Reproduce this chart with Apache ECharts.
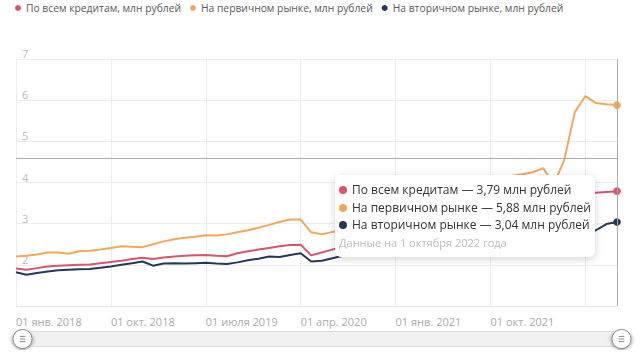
<!DOCTYPE html>
<html>
<head>
<meta charset="utf-8">
<script src="https://cdn.jsdelivr.net/npm/echarts@6/dist/echarts.min.js"></script>
<style>
html,body{margin:0;padding:0;background:#fff;}
#c{width:640px;height:360px;}
</style>
</head>
<body>
<div id="c"></div>
<script>
// ---- data ----
const years = [2018, 2019, 2020, 2021, 2022];
const monthShort = ['янв.', 'февр.', 'мар.', 'апр.', 'мая', 'июня', 'июля', 'авг.', 'сент.', 'окт.', 'нояб.', 'дек.'];
const monthGen = ['января', 'февраля', 'марта', 'апреля', 'мая', 'июня', 'июля', 'августа', 'сентября', 'октября', 'ноября', 'декабря'];
const legendNames = ['По всем кредитам, млн рублей', 'На первичном рынке, млн рублей', 'На вторичном рынке, млн рублей'];
const tipNames = ['По всем кредитам', 'На первичном рынке', 'На вторичном рынке'];
const yTicks = [1, 2, 3, 4, 5, 6, 7];

// Jan 2018 .. Oct 2022 (58 months)
const allLoans = [
  1.91, 1.88, 1.92, 1.96, 1.98, 1.99, 2.00, 2.01, 2.04, 2.07, 2.10, 2.14,
  2.17, 2.14, 2.18, 2.20, 2.22, 2.23, 2.24, 2.22, 2.21, 2.28, 2.33, 2.37,
  2.41, 2.45, 2.48, 2.49, 2.23, 2.30, 2.37, 2.42, 2.46, 2.50, 2.55, 2.60,
  2.58, 2.63, 2.70, 2.75, 2.80, 2.86, 2.91, 2.96, 3.02, 3.08, 3.13, 3.20,
  3.22, 3.26, 3.25, 3.15, 3.35, 3.62, 3.76, 3.75, 3.77, 3.79
];
const primary = [
  2.20, 2.22, 2.25, 2.30, 2.30, 2.27, 2.33, 2.34, 2.37, 2.41, 2.45, 2.44,
  2.43, 2.50, 2.57, 2.62, 2.66, 2.68, 2.72, 2.71, 2.74, 2.79, 2.84, 2.90,
  2.97, 3.04, 3.10, 3.10, 2.79, 2.74, 2.80, 2.85, 2.92, 2.98, 3.05, 3.12,
  3.15, 3.25, 3.35, 3.45, 3.55, 3.65, 3.72, 3.80, 3.88, 3.95, 4.05, 4.16,
  4.20, 4.25, 4.35, 3.95, 4.55, 5.71, 6.10, 5.93, 5.90, 5.88
];
const secondary = [
  1.82, 1.76, 1.80, 1.84, 1.87, 1.88, 1.89, 1.90, 1.93, 1.96, 2.00, 2.04,
  2.08, 1.98, 2.03, 2.04, 2.03, 2.04, 2.05, 2.03, 2.02, 2.06, 2.11, 2.15,
  2.20, 2.19, 2.24, 2.28, 2.08, 2.10, 2.16, 2.22, 2.27, 2.30, 2.34, 2.38,
  2.37, 2.41, 2.47, 2.52, 2.56, 2.61, 2.65, 2.68, 2.72, 2.76, 2.80, 2.85,
  2.86, 2.89, 2.88, 2.78, 2.74, 2.73, 2.76, 2.84, 2.99, 3.04
];
const colors = ['#d6566c', '#f0a75e', '#26375b'];

const categories = [];
for (const y of years) for (let m = 0; m < 12; m++) {
  if (y === 2022 && m > 9) break;
  categories.push(y + '-' + String(m + 1).padStart(2, '0'));
}
const seriesData = [allLoans, primary, secondary];

function fmt(v) { return v.toFixed(2).replace('.', ','); }

const handlePath = 'path://M50,2A48,48,0,1,1,50,98A48,48,0,1,1,50,2Z M36,37L64,37 M36,50L64,50 M36,63L64,63';

const chart = echarts.init(document.getElementById('c'), null, { renderer: 'svg' });
chart.setOption({
  animation: false,
  color: colors,
  legend: {
    left: 15, top: 3, padding: 0,
    icon: 'circle', itemWidth: 6, itemHeight: 6, itemGap: 9,
    textStyle: { fontFamily: 'Open Sans', fontSize: 10.3, color: '#5a5a5a' },
    data: legendNames
  },
  grid: { left: 16, right: 23, top: 59, bottom: 54 },
  tooltip: {
    trigger: 'axis',
    triggerOn: 'none',
    alwaysShowContent: true,
    transitionDuration: 0,
    position: [335, 175],
    padding: [6, 4, 6, 4],
    backgroundColor: '#fff',
    borderWidth: 0,
    extraCssText: 'border-radius:6px;box-shadow:0 2px 8px rgba(0,0,0,0.18);',
    axisPointer: {
      type: 'cross',
      label: { show: false },
      crossStyle: { color: '#aaa', type: 'solid', width: 1 },
      lineStyle: { color: '#aaa', type: 'solid', width: 1 }
    },
    formatter: function (params) {
      let html = '<div style="font-family:\'Open Sans\';font-size:12px;color:#333;">';
      params.forEach(p => {
        html += '<div style="line-height:17.5px;white-space:nowrap;">' +
          '<span style="display:inline-block;width:8px;height:8px;border-radius:50%;background:' + colors[p.seriesIndex] + ';margin-right:5px;vertical-align:0px;"></span>' +
          tipNames[p.seriesIndex] + ' — ' + fmt(p.value) + ' млн рублей</div>';
      });
      const parts = categories[params[0].dataIndex].split('-');
      html += '<div style="line-height:17.5px;font-size:11px;color:#bbb;">Данные на 1 ' +
        monthGen[parseInt(parts[1], 10) - 1] + ' ' + parts[0] + ' года</div></div>';
      return html;
    }
  },
  xAxis: {
    type: 'category',
    data: categories,
    boundaryGap: false,
    axisLine: { show: true, lineStyle: { color: '#e6e6e6' } },
    axisTick: { show: false },
    splitLine: { show: true, interval: 8, lineStyle: { color: '#ececec' } },
    axisLabel: {
      interval: function (i) { return i % 9 === 0 && i < 54; },
      align: 'left',
      margin: 10,
      fontFamily: 'Open Sans', fontSize: 11, color: '#aaa',
      formatter: function (v) {
        const parts = v.split('-');
        return '01 ' + monthShort[parseInt(parts[1], 10) - 1] + ' ' + parts[0];
      }
    }
  },
  yAxis: {
    type: 'value',
    min: yTicks[0], max: yTicks[yTicks.length - 1], interval: 1,
    axisLine: { show: false },
    axisTick: { show: false },
    splitLine: { lineStyle: { color: '#ececec' } },
    axisLabel: {
      inside: true,
      margin: 6,
      verticalAlign: 'bottom',
      fontFamily: 'Open Sans', fontSize: 11, color: '#bbb',
      formatter: function (v) { return v === yTicks[0] ? '' : String(v); }
    }
  },
  dataZoom: [{
    type: 'slider',
    left: 20, right: 19, bottom: 13, height: 16,
    start: 0, end: 100,
    showDetail: false,
    showDataShadow: false,
    brushSelect: false,
    moveHandleSize: 0,
    backgroundColor: '#f7f7f7',
    borderColor: '#dcdcdc',
    borderRadius: 8,
    fillerColor: 'rgba(236,236,236,0.5)',
    handleIcon: handlePath,
    handleSize: '120%',
    handleStyle: { color: '#fff', borderColor: '#888', borderWidth: 1, shadowBlur: 4, shadowColor: 'rgba(0,0,0,0.4)', shadowOffsetY: 1 }
  }],
  series: seriesData.map((d, i) => ({
    name: legendNames[i],
    type: 'line',
    data: d,
    showSymbol: false,
    symbol: 'circle',
    symbolSize: 7,
    lineStyle: { width: 2, color: colors[i] },
    itemStyle: { color: colors[i] },
    emphasis: { disabled: true }
  }))
});
chart.dispatchAction({ type: 'showTip', x: 612, y: 158 });
</script>
</body>
</html>
